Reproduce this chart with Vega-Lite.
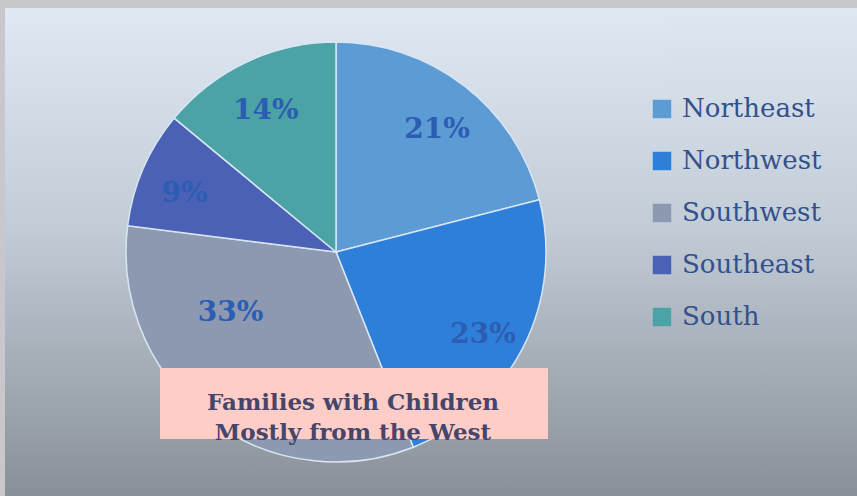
{
  "$schema": "https://vega.github.io/schema/vega-lite/v6.json",
  "background": "#c8c8cc",
  "padding": {"left": 5, "top": 8, "right": 0, "bottom": 0},
  "spacing": 0,
  "bounds": "flush",
  "config": {
    "view": {"stroke": null},
    "legend": {
      "orient": "none",
      "legendX": -18,
      "legendY": 88,
      "padding": 0,
      "symbolType": "square",
      "symbolSize": 340,
      "symbolStrokeWidth": 0,
      "symbolOpacity": 1,
      "labelFont": "DejaVu Serif",
      "labelFontSize": 26,
      "labelColor": "#33508c",
      "labelOffset": 7,
      "rowPadding": 26,
      "labelLimit": 300
    }
  },
  "datasets": {
    "regions": [
      {"region": "Northeast", "share": 0.21},
      {"region": "Northwest", "share": 0.23},
      {"region": "Southwest", "share": 0.33},
      {"region": "Southeast", "share": 0.09},
      {"region": "South", "share": 0.14}
    ]
  },
  "resolve": {"scale": {"color": "shared"}, "legend": {"color": "independent"}},
  "hconcat": [
    {
      "width": 662,
      "height": 488,
      "view": {
        "stroke": null,
        "fill": {"gradient": "linear", "x1": 0, "y1": 0, "x2": 0, "y2": 1,
          "stops": [
            {"offset": 0, "color": "#dfe8f3"},
            {"offset": 0.45, "color": "#c2ccd7"},
            {"offset": 1, "color": "#899097"}
          ]}
      },
      "data": {"name": "regions"},
      "transform": [{"window": [{"op": "row_number", "as": "idx"}]}],
      "layer": [
        {
          "mark": {"type": "arc", "outerRadius": 210, "stroke": "#d8e6f5", "strokeWidth": 1.5},
          "encoding": {
            "theta": {"field": "share", "type": "quantitative", "stack": true},
            "order": {"field": "idx", "type": "quantitative"},
            "color": {
              "field": "region", "type": "nominal",
              "scale": {
                "domain": ["Northeast", "Northwest", "Southwest", "Southeast", "South"],
                "range": ["#5d9bd4", "#2e7fda", "#8c99b0", "#4a61b6", "#4ba3a6"]
              },
              "legend": null
            }
          }
        },
        {
          "mark": {
            "type": "text",
            "radius": {"expr": "datum.region == 'Southwest' ? 120 : 165"},
            "dx": {"expr": "datum.region == 'Southwest' ? -32 : 0"},
            "dy": {"expr": "datum.region == 'Southwest' ? -34 : 8"},
            "font": "DejaVu Serif", "fontWeight": "bold", "fontSize": 28, "color": "#2b5db3"
          },
          "encoding": {
            "theta": {"field": "share", "type": "quantitative", "stack": true},
            "order": {"field": "idx", "type": "quantitative"},
            "text": {"field": "share", "type": "quantitative", "format": ".0%"},
            "detail": {"field": "region"}
          }
        },
        {
          "data": {"values": [{"note": "Families with Children"}]},
          "mark": {"type": "rect", "color": "#fecdc7"},
          "encoding": {
            "x": {"value": 155}, "x2": {"value": 543},
            "y": {"value": 360}, "y2": {"value": 431}
          }
        },
        {
          "data": {"values": [{"note": "Families with Children"}]},
          "mark": {"type": "text", "font": "DejaVu Serif", "fontWeight": "bold", "fontSize": 23, "color": "#46466a", "lineHeight": 30, "align": "center", "baseline": "middle"},
          "encoding": {
            "x": {"value": 348}, "y": {"value": 395},
            "text": {"value": ["Families with Children", "Mostly from the West"]}
          }
        }
      ]
    },
    {
      "width": 190,
      "height": 488,
      "view": {
        "stroke": null,
        "fill": {"gradient": "linear", "x1": 0, "y1": 0, "x2": 0, "y2": 1,
          "stops": [
            {"offset": 0, "color": "#dfe8f2"},
            {"offset": 0.45, "color": "#c2ccd7"},
            {"offset": 1, "color": "#899097"}
          ]}
      },
      "data": {"name": "regions"},
      "transform": [{"filter": "false"}],
      "mark": {"type": "square", "opacity": 1},
      "encoding": {
        "color": {
          "field": "region", "type": "nominal",
          "scale": {
            "domain": ["Northeast", "Northwest", "Southwest", "Southeast", "South"],
            "range": ["#5d9bd4", "#2e7fda", "#8c99b0", "#4a61b6", "#4ba3a6"]
          },
          "legend": {"title": null}
        }
      }
    }
  ]
}
